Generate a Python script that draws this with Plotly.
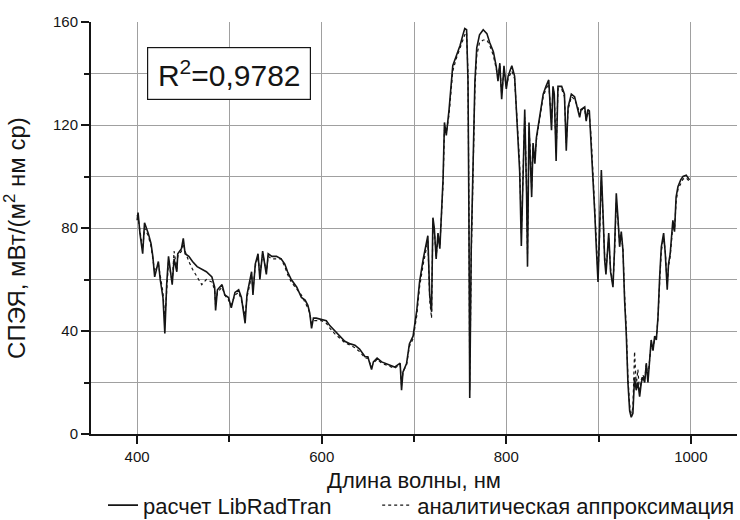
import plotly.graph_objects as go

# Wavelength, nm
wl = [
    400, 401, 403, 406, 408, 412, 415, 417, 419, 423,
    425, 428, 430, 432, 434, 438, 440, 443, 444, 448,
    450, 452, 456, 460, 465, 470, 475, 481, 484, 485,
    487, 492, 495, 499, 502, 506, 510, 513, 517, 519,
    522, 524, 525.5, 528, 531, 533, 536, 540, 542, 546,
    551, 556, 560, 563, 567, 573, 578, 582, 585, 587,
    589, 591, 594, 600, 605, 609, 614, 620, 625, 631,
    636, 641, 647, 650, 654, 656, 660, 665, 672, 679,
    685, 686.5, 688, 692, 695, 699, 703, 706, 710, 713.5,
    715, 717, 719, 720.5, 722, 724, 726, 728, 730, 731.5,
    733, 735, 738, 742, 746, 750, 753, 755, 757, 758.5,
    759.5, 760.4, 762, 764, 766, 768, 771, 775, 779, 782,
    786, 789, 791, 793, 795, 797.5, 800, 802, 806, 809,
    811, 813, 814.5, 816.3, 818, 820, 822, 823, 824.6, 826,
    827.5, 829, 831, 832.6, 836, 840, 843, 846, 849, 850.6,
    852, 854, 856, 860, 863, 865, 867, 870.5, 874, 877.5,
    879.5, 881, 885, 886.6, 888.4, 890, 892, 894, 896, 897.6,
    899.4, 901, 903, 905, 906.6, 908, 911, 913, 915.6, 917.4,
    919.2, 921, 922.8, 924.6, 926.4, 928.2, 930, 931.8, 933.7, 935.4,
    937.2, 939, 940.8, 942.6, 944.5, 946.3, 948, 950, 951.7, 953.5,
    955.3, 957, 959, 960.8, 962.6, 964.4, 966.2, 968, 970.5, 972.3,
    974.4, 975.8, 977.6, 980.5, 982.3, 984, 986, 989, 991.5, 995,
    998.6,
]

# LibRadTran calculation, mW/(m2 nm sr)
lrt = [
    83, 86, 78, 70, 82, 78, 74, 69, 61, 67,
    60, 53, 39, 58, 69, 58, 68, 63, 70, 72,
    76, 70, 69, 67, 65, 64, 63, 61, 57, 48,
    56, 58, 54, 53, 49, 55, 56, 53, 43, 54,
    60, 63, 54, 66, 70, 60, 71, 62, 70, 69,
    69, 68, 66, 63, 60, 57, 53, 52, 50, 47,
    41, 45, 45, 44.5, 44, 42, 40, 38, 36, 35,
    34.5, 33, 30, 30, 25, 28, 29.5, 28, 27, 26,
    27.5, 17, 24, 27.5, 35, 38, 48, 59, 68, 75,
    77, 54, 47.5, 84, 80, 68, 78, 72, 89, 99,
    121, 116, 126, 143, 147, 151, 155, 157.5, 157, 137,
    85, 14, 72, 111, 137, 150, 155, 157, 155.5, 152,
    148.5, 143, 137, 144, 130, 143, 134, 139, 143, 139,
    126, 113, 102, 73, 96, 126, 93, 65, 121, 110,
    92, 113, 105, 115, 123, 132, 135, 137.5, 118, 135,
    132, 106, 135, 135, 132, 110, 127, 132, 131, 126,
    123, 126, 127, 121.5, 126, 125.5, 113, 100, 85, 72,
    59, 78, 102.5, 84, 67.6, 62, 78, 63, 57, 72.7,
    93.5, 84, 72.7, 78.6, 71.5, 52, 39, 20, 9, 6.5,
    8, 22, 17, 20, 14.5, 20, 22, 20, 27.5, 20,
    27.5, 36.5, 32.4, 38, 36.5, 45.5, 61, 72.7, 78, 70,
    56, 66, 70, 83, 78.6, 92, 96, 98.7, 100, 100.5,
    98.7,
]

# Analytical approximation, mW/(m2 nm sr)
apx = [
    85, 84, 79, 72, 80, 77, 73, 68, 63, 66,
    61, 55, 44, 57, 67, 59, 71, 64, 69, 71,
    74, 71, 67, 64, 61, 58, 60, 59, 56, 50,
    55, 57, 54, 52, 50, 54, 55, 52, 46, 53,
    58, 62, 56, 65, 69, 62, 70, 63, 69, 68,
    68, 68, 65, 62, 59, 56, 54, 51, 49, 47,
    43, 44, 44, 44, 43, 41, 39, 37, 35.5, 34.5,
    33.5, 32, 29.5, 29.5, 26, 27.5, 29, 27.5, 26.5, 25.5,
    27, 19, 24, 27, 34, 37, 46, 57, 66, 73,
    75, 52, 45, 82, 79, 69, 76, 73, 87, 97,
    118, 117, 124, 141, 146, 150, 153, 155, 156, 140,
    90, 17, 68, 108, 134, 147, 152, 153, 153, 151,
    147, 142, 139, 143, 132, 141, 135, 138, 141, 138,
    127, 115, 105, 78, 98, 123, 96, 70, 118, 111,
    95, 112, 107, 114, 122, 131, 134, 136, 121, 134,
    132, 109, 134, 134, 131, 113, 126, 131, 130, 127,
    124, 126, 126, 122, 125, 124, 115, 102, 88, 75,
    62, 76, 99, 83, 69, 64, 76, 64, 58, 71,
    90, 83, 74, 77, 72, 54, 41, 22, 11, 8,
    10, 32, 19, 25, 16, 21, 23, 21, 27, 22,
    28, 35, 33, 37, 37, 45, 59, 71, 76, 71,
    58, 65, 69, 81, 79, 90, 95, 97, 99, 99.5,
    98,
]

y_grid = [20, 40, 60, 80, 100, 120, 140]

FONT = "Liberation Sans, Arial, sans-serif"
GRID = "#a0a0a0"
INK = "#151515"

fig = go.Figure()
fig.add_trace(go.Scatter(
    x=wl, y=lrt, mode="lines", name="расчет LibRadTran", yaxis="y2",
    line=dict(color=INK, width=1.6), legend="legend",
))
fig.add_trace(go.Scatter(
    x=wl, y=apx, mode="lines", name="аналитическая аппроксимация", yaxis="y2",
    line=dict(color=INK, width=1.2, dash="dot"), legend="legend2",
))

fig.add_annotation(
    x=500, y=140, xref="x", yref="y",
    text="R<sup>2</sup>=0,9782", showarrow=False,
    font=dict(family=FONT, size=30, color=INK),
    bgcolor="white", bordercolor=INK, borderwidth=1.2,
    width=160, height=49, borderpad=1,
)

# y-axis title placed as a rotated annotation
fig.add_annotation(
    x=-0.117, y=0.477, xref="paper", yref="paper",
    text="СПЭЯ, мВт/(м<sup>2</sup> нм ср)", showarrow=False, textangle=-90,
    font=dict(family=FONT, size=24, color=INK),
    xanchor="center", yanchor="middle",
)

legend_common = dict(
    orientation="h", yanchor="middle",
    font=dict(family=FONT, size=22, color=INK),
    bgcolor="rgba(0,0,0,0)",
)

fig.update_layout(
    width=740, height=520,
    margin=dict(l=91, r=3, t=22, b=86, autoexpand=False),
    paper_bgcolor="white", plot_bgcolor="white",
    font=dict(family=FONT, color=INK),
    showlegend=True,
    legend=dict(x=0.0186, xanchor="left", y=-0.173, **legend_common),
    legend2=dict(x=0.443, xanchor="left", y=-0.173, **legend_common),
    yaxis2=dict(
        overlaying="y", side="left", range=[0, 160],
        tickvals=y_grid, showticklabels=False, ticks="",
        showgrid=True, gridcolor=GRID, gridwidth=1.2,
        showline=False, zeroline=False,
    ),
)

fig.update_xaxes(
    range=[350, 1050], tick0=400, dtick=200,
    showline=True, linecolor=INK, linewidth=2,
    ticks="outside", ticklen=8, tickwidth=1.5, tickcolor=INK,
    tickfont=dict(family=FONT, size=15, color=INK),
    showgrid=True, gridcolor=GRID, gridwidth=1.2,
    minor=dict(dtick=100, ticks="outside", ticklen=6, tickwidth=1.5, tickcolor=INK,
               showgrid=True, gridcolor=GRID, gridwidth=1.2),
    zeroline=False,
    title=dict(text="Длина волны, нм", font=dict(family=FONT, size=22, color=INK), standoff=9),
)
fig.update_layout(yaxis=dict(
    range=[0, 160], tick0=0, dtick=40,
    showline=True, linecolor=INK, linewidth=2,
    ticks="outside", ticklen=8, tickwidth=1.5, tickcolor=INK,
    tickfont=dict(family=FONT, size=15, color=INK),
    showgrid=False,
    minor=dict(dtick=20, ticks="outside", ticklen=5, tickwidth=1.5, tickcolor=INK, showgrid=False),
    zeroline=False,
))

fig.write_html("out.html")
